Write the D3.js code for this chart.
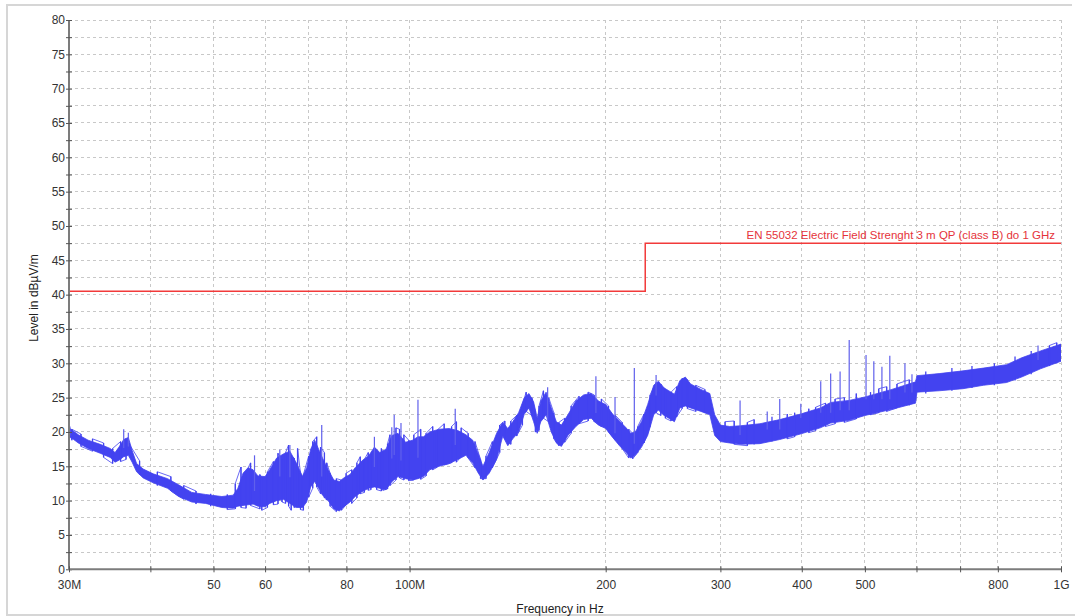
<!DOCTYPE html>
<html>
<head>
<meta charset="utf-8">
<script src="https://cdn.jsdelivr.net/npm/d3@7"></script>
<style>
  body { margin: 0; background: #fff; }
  svg { display: block; font-family: "Liberation Sans", Arial, sans-serif; }
  .grid line { stroke: #c8c8c8; stroke-dasharray: 3,3; shape-rendering: crispEdges; }
  .axis path { stroke: #7c7c7c; stroke-width: 2; }
  .axis line { stroke: #555; }
  .axis text { fill: #333; font-size: 12px; font-family: "Liberation Sans", Arial, sans-serif; }
</style>
</head>
<body>
<div class="chart"></div>
<script>
// sweep: frequency in MHz, upper / lower edge of the trace in dBµV/m
var freqMHz = [30.0, 30.5, 31.0, 32.1, 33.5, 34.7, 35.3, 35.8, 36.4, 37.0, 37.5, 38.1, 39.0, 40.4, 42.5, 44.2, 46.3, 48.6, 51.5, 53.6,
  54.5, 55.5, 56.5, 57.5, 58.5, 60.0, 61.0, 62.5, 64.0, 65.5, 67.0, 68.5, 69.5, 70.5, 71.5, 72.5, 73.5, 75.0, 76.5, 78.0,
  79.5, 81.0, 82.5, 84.5, 86.5, 88.3, 90.0, 92.0, 94.0, 96.0, 98.6, 101, 103,
  105, 107.4, 111, 115, 118.6, 122, 125, 127.5, 129.6, 132.5, 136, 139, 141.5, 144, 147, 150, 152.5, 155, 157, 159,
  162, 165, 168, 171, 175, 180, 185, 190, 195, 200,
  205, 210, 215, 218.5, 222, 227, 232, 237, 241, 245, 250, 255, 260, 265, 270, 280, 289, 294, 300,
  310, 322, 345, 370, 398, 427, 443, 473, 500, 550, 598, 601, 650, 707, 760, 825, 870, 930, 1000];
var levelMax = [20.6, 20.1, 19.6, 18.8, 18.2, 17.6, 17.0, 17.8, 18.9, 19.2, 17.3, 15.4, 14.6, 13.9, 13.2, 12.3, 11.2, 10.9, 10.6, 10.8,
  11.8, 14.0, 14.8, 14.5, 13.6, 13.5, 14.5, 16.2, 16.8, 17.2, 15.5, 13.5, 14.8, 17.5, 18.8, 17.5, 16.2, 14.5, 13.0, 12.8,
  13.4, 13.8, 14.8, 15.8, 16.5, 17.8, 17.0, 17.5, 19.5, 19.8, 18.5, 18.8, 19.3,
  19.3, 20.0, 20.4, 20.5, 20.2, 19.6, 18.8, 16.8, 15.0, 17.0, 19.8, 21.4, 20.5, 21.5, 22.8, 25.0, 25.6, 24.4, 22.0, 24.5,
  25.8, 23.5, 21.5, 21.0, 22.5, 24.5, 25.4, 25.6, 24.5, 24.0,
  22.6, 21.6, 20.6, 19.8, 20.0, 21.5, 24.0, 26.8, 27.4, 26.5, 26.0, 25.5, 27.5, 28.0, 27.0, 26.2, 25.6, 22.5, 21.0,
  20.8, 20.9, 21.2, 21.8, 22.6, 23.5, 24.3, 24.6, 25.1, 26.2, 27.3, 28.2, 28.5, 28.9, 29.3, 29.8, 30.8, 31.8, 32.8];
var levelMin = [19.3, 18.9, 18.4, 17.6, 16.9, 16.3, 15.6, 15.9, 16.4, 16.6, 15.6, 14.2, 13.3, 12.6, 11.8, 10.6, 9.8, 9.6, 9.0, 8.9,
  9.2, 9.3, 9.4, 9.5, 9.2, 9.1, 9.6, 10.0, 10.2, 9.6, 9.0, 9.0, 9.8, 12.0, 12.8, 11.8, 10.8, 10.0, 8.8, 8.5,
  9.2, 9.8, 10.6, 11.3, 11.8, 12.0, 11.8, 11.6, 12.8, 13.5, 13.2, 13.0, 13.2,
  13.5, 14.5, 15.0, 15.4, 16.0, 16.6, 15.5, 14.0, 13.0, 14.0, 16.0, 19.4, 18.0, 19.0, 20.0, 22.6, 23.5, 21.5, 19.8, 21.5,
  22.5, 20.0, 18.4, 17.9, 19.5, 20.8, 21.8, 22.0, 21.0, 20.5,
  19.2, 18.0, 17.0, 16.2, 16.6, 17.8, 19.5, 22.5, 23.2, 22.5, 22.0, 21.5, 23.5, 23.8, 23.5, 23.0, 22.5, 19.5, 18.6,
  18.4, 18.2, 18.3, 18.9, 19.7, 20.6, 21.3, 21.7, 22.4, 23.3, 24.2, 25.8, 26.0, 26.3, 26.8, 27.2, 28.0, 29.2, 30.3];

// single noise strands that reach outside the band (MHz, top, bottom)
var hairFreq = [30.3, 31.3, 32.6, 33.9, 35.0, 36.0, 36.7, 38.5, 41.0, 43.0, 45.0, 47.0, 49.5, 52.5,
  54.0, 55.1, 56.1, 57.0, 58.9, 59.3, 60.5, 61.8, 62.8, 63.7, 64.5, 65.2, 65.8, 66.5, 67.3, 68.0, 68.7,
  70.0, 71.0, 72.0, 73.0, 74.0, 74.6, 75.5, 77.2, 78.6, 79.9, 81.5, 83.0, 84.0, 85.2, 86.4, 87.2, 89.0,
  90.5, 91.0, 92.5, 93.3, 95.3, 96.5, 98.0, 99.7, 101.5, 104, 106, 108.5, 110, 113, 116, 118, 120, 123,
  126, 128.5, 131, 134, 137.5, 140, 143, 146, 149, 151, 154, 156, 158, 160.5, 163.5, 166.5, 169.5, 173,
  177, 182, 188, 192, 197, 202, 207, 212, 217, 220, 224, 229, 234, 239, 243, 247, 252, 257, 262, 267, 275, 284,
  305, 315, 330, 338, 360, 380, 390, 410, 420, 435, 450, 465, 485, 510, 525, 540, 560, 585,
  620, 680, 730, 790, 850, 900, 960, 985];
var hairTop = [20.4, 19.7, 19.0, 18.4, 17.6, 18.6, 19.0, 15.8, 14.2, 13.5, 12.2, 11.4, 11.0, 10.9,
  12.5, 14.9, 14.2, 15.5, 13.8, 13.4, 14.2, 15.7, 16.9, 16.0, 17.0, 18.1, 16.5, 16.2, 17.6, 14.0, 13.8,
  16.5, 18.6, 19.3, 17.8, 17.0, 15.5, 14.0, 13.2, 13.0, 14.0, 14.5, 15.5, 16.4, 16.0, 17.0, 16.8, 17.3,
  17.6, 17.0, 18.3, 19.6, 20.6, 20.4, 19.6, 18.8, 19.6, 20.4, 19.8, 20.8, 20.2, 21.2, 20.8, 21.5, 20.6, 19.8,
  18.6, 16.0, 16.5, 18.6, 21.0, 21.6, 21.6, 22.4, 24.0, 25.8, 25.0, 23.0, 23.8, 26.0, 25.0, 22.8, 21.4, 22.0,
  23.8, 25.2, 25.8, 25.4, 24.8, 23.8, 22.4, 21.4, 20.4, 19.8, 20.8, 22.6, 25.4, 27.2, 27.0, 26.2, 25.8, 26.6, 27.8, 27.6, 26.8, 26.2,
  21.5, 21.6, 21.4, 21.8, 22.2, 22.6, 22.8, 23.4, 23.6, 24.2, 24.8, 25.0, 25.6, 25.8, 26.3, 26.6, 27.0, 27.6,
  28.8, 29.3, 29.6, 30.0, 31.0, 31.8, 32.6, 33.0];
var hairBottom = [18.8, 17.9, 17.2, 16.3, 15.4, 15.7, 16.0, 13.8, 12.2, 11.4, 10.2, 9.5, 9.2, 8.7,
  8.8, 9.0, 8.9, 9.3, 8.8, 8.6, 9.0, 9.4, 9.5, 9.8, 9.6, 9.2, 8.6, 9.0, 9.2, 8.7, 8.6,
  10.5, 11.8, 12.0, 11.0, 10.4, 10.1, 9.2, 8.4, 8.6, 9.4, 9.6, 10.4, 11.0, 11.2, 11.5, 11.6, 11.6,
  11.4, 11.5, 11.7, 12.2, 13.0, 13.3, 13.0, 12.9, 13.0, 13.1, 13.6, 14.5, 14.8, 15.2, 15.5, 15.6, 16.4, 16.2,
  14.8, 13.2, 13.2, 14.8, 17.0, 19.0, 18.2, 19.4, 21.0, 23.0, 22.4, 20.0, 20.2, 22.0, 21.5, 19.0, 18.0, 18.5,
  19.8, 21.2, 21.6, 21.5, 20.8, 20.0, 18.8, 17.6, 16.2, 16.1, 17.0, 18.4, 20.8, 22.8, 22.4, 22.0, 21.6, 22.2, 23.4, 23.4, 23.0, 22.8,
  18.6, 18.2, 18.0, 18.2, 18.6, 19.0, 19.3, 19.9, 20.2, 20.8, 21.2, 21.4, 21.9, 22.5, 22.8, 23.0, 23.5, 23.9,
  25.6, 26.0, 26.4, 26.8, 27.5, 28.4, 29.6, 30.0];

// narrow peaks sticking out of the trace
var spikeFreq = [30.1, 36.4, 37.0, 57.8, 63.2, 65.5, 73.3, 88.3, 93.9, 94.7, 97.0, 103, 117.5, 162.9, 193.2, 206.7, 221.3, 239,
  321.6, 354, 370, 398.6, 427.7, 443, 458, 473, 502, 516, 531, 546, 576, 590.5, 922];
var spikeLevel = [20.8, 20.4, 19.9, 16.6, 17.4, 18.1, 21.0, 19.3, 20.7, 22.5, 21.3, 24.7, 23.4, 26.5, 28.1, 25.1, 29.3, 28.3,
  24.6, 23.0, 24.8, 24.1, 27.4, 28.5, 28.8, 33.4, 31.2, 30.3, 29.5, 31.1, 30.0, 28.4, 32.6];

// limit line
var limitFreq = [30, 230, 230, 1000];
var limitLevel = [40.5, 40.5, 47.5, 47.5];
var limitLabel = "EN 55032 Electric Field Strenght 3 m QP (class B) do 1 GHz";

var xTickValues = [30, 40, 50, 60, 70, 80, 100, 200, 300, 400, 500, 600, 700, 800, 1000];
var xTickLabels = ["30M", "", "50", "60", "", "80", "100M", "200", "300", "400", "500", "", "", "800", "1G"];
var yTickValues = [0, 5, 10, 15, 20, 25, 30, 35, 40, 45, 50, 55, 60, 65, 70, 75, 80];
var yMinorTicks = [2.5, 7.5, 12.5, 17.5, 22.5, 27.5, 32.5, 37.5, 42.5, 47.5, 52.5, 57.5, 62.5, 67.5, 72.5, 77.5];

var margin = {top: 20, left: 69},
    width = 992,
    height = 549.3,
    traceColor = "#4343f0";

var svg = d3.select(".chart").append("svg")
    .attr("width", 1075)
    .attr("height", 616);

// outer frame
svg.append("path")
    .attr("d", "M7,616V5H1072M7,615H1075")
    .attr("fill", "none")
    .attr("stroke", "#d6d6d6")
    .attr("stroke-width", 2);

var g = svg.append("g")
    .attr("transform", `translate(${margin.left}, ${margin.top})`);

var x = d3.scaleLog().domain([30, 1000]).range([0, width]);
var y = d3.scaleLinear().domain([0, 80]).range([height, 0]);

g.append("defs").append("clipPath")
    .attr("id", "plot-clip")
  .append("rect")
    .attr("width", width)
    .attr("height", height);

// grid
var grid = g.append("g").attr("class", "grid");
grid.selectAll(".hgrid")
    .data(yTickValues.concat(yMinorTicks))
    .enter().append("line")
    .attr("x1", 0)
    .attr("x2", width)
    .attr("y1", d => y(d))
    .attr("y2", d => y(d));
grid.selectAll(".vgrid")
    .data(xTickValues.slice(1))
    .enter().append("line")
    .attr("x1", d => x(d))
    .attr("x2", d => x(d))
    .attr("y1", 0)
    .attr("y2", height);

var trace = freqMHz.map((f, i) => ({f: f, hi: levelMax[i], lo: levelMin[i]}));
var plot = g.append("g").attr("clip-path", "url(#plot-clip)");

var band = d3.area()
    .x(d => x(d.f))
    .y0(d => y(d.lo))
    .y1(d => y(d.hi));

plot.append("path")
    .datum(trace)
    .attr("d", band)
    .attr("fill", traceColor)
    .attr("stroke", traceColor)
    .attr("stroke-width", 0.8)
    .attr("stroke-linejoin", "round");

// noise strands, drawn as a min/max zigzag like the receiver display
var strands = hairFreq.map((f, i) => ({f: f, top: hairTop[i], bottom: hairBottom[i]}));
plot.selectAll(".hair")
    .data(strands)
    .enter().append("line")
    .attr("class", "hair")
    .attr("x1", d => x(d.f))
    .attr("x2", d => x(d.f))
    .attr("y1", d => y(d.bottom))
    .attr("y2", d => y(d.top))
    .attr("stroke", traceColor)
    .attr("stroke-width", 1.3);

// zigzag only where neighbouring strands are close together
var zigSegments = [], seg = [];
strands.forEach((d, i) => {
  if (i > 0 && d.f / strands[i - 1].f > 1.05) {
    zigSegments.push(seg);
    seg = [];
  }
  seg.push([d.f, i % 2 ? d.top : d.bottom]);
  seg.push([d.f, i % 2 ? d.bottom : d.top]);
});
zigSegments.push(seg);

plot.selectAll(".zig")
    .data(zigSegments.filter(s => s.length > 2))
    .enter().append("path")
    .attr("class", "zig")
    .attr("d", d3.line().x(d => x(d[0])).y(d => y(d[1])))
    .attr("fill", "none")
    .attr("stroke", traceColor)
    .attr("stroke-opacity", 0.8)
    .attr("stroke-width", 1);

var bisect = d3.bisector(d => d.f).left;
plot.selectAll(".spike")
    .data(spikeFreq.map((f, i) => ({f: f, v: spikeLevel[i]})))
    .enter().append("line")
    .attr("class", "spike")
    .attr("x1", d => x(d.f))
    .attr("x2", d => x(d.f))
    .attr("y1", d => {
      let s = trace[Math.min(bisect(trace, d.f), trace.length - 1)];
      return y((s.hi + s.lo) / 2);
    })
    .attr("y2", d => y(d.v))
    .attr("stroke", "#6060ec")
    .attr("stroke-width", 1.2);

// limit
var limitLine = d3.line()
    .x(d => x(d[0]))
    .y(d => y(d[1]));
g.append("path")
    .datum(limitFreq.map((f, i) => [f, limitLevel[i]]))
    .attr("d", limitLine)
    .attr("fill", "none")
    .attr("stroke", "#f23a3a")
    .attr("stroke-width", 1.5);

g.append("text")
    .attr("x", 986)
    .attr("y", y(limitLevel[3]) - 4)
    .attr("text-anchor", "end")
    .attr("font-size", "11.5px")
    .attr("fill", "#e5333b")
    .text(limitLabel);

// axes
var yAxis = g.append("g")
    .attr("class", "axis axis--y")
    .call(d3.axisLeft(y).tickValues(yTickValues.concat(yMinorTicks))
      .tickSize(3).tickPadding(1)
      .tickFormat(d => yTickValues.indexOf(d) >= 0 ? d : ""));
yAxis.selectAll(".tick line").attr("x1", 3);
yAxis.select(".domain").attr("d", `M0,${height}V0`);

var xAxis = g.append("g")
    .attr("class", "axis axis--x")
    .attr("transform", `translate(0, ${height})`)
    .call(d3.axisBottom(x).tickValues(xTickValues)
      .tickSize(3).tickPadding(8)
      .tickFormat((d, i) => xTickLabels[i]));
xAxis.selectAll(".tick line").attr("y1", -3);
xAxis.select(".domain").attr("d", `M0,0H${width}`);

// axis titles
svg.append("text")
    .attr("x", 560)
    .attr("y", 613)
    .attr("text-anchor", "middle")
    .attr("font-size", "12px")
    .attr("fill", "#222")
    .text("Frequency in Hz");

svg.append("text")
    .attr("transform", "translate(38, 298) rotate(-90)")
    .attr("text-anchor", "middle")
    .attr("font-size", "12px")
    .attr("fill", "#222")
    .text("Level in dBµV/m");
</script>
</body>
</html>
